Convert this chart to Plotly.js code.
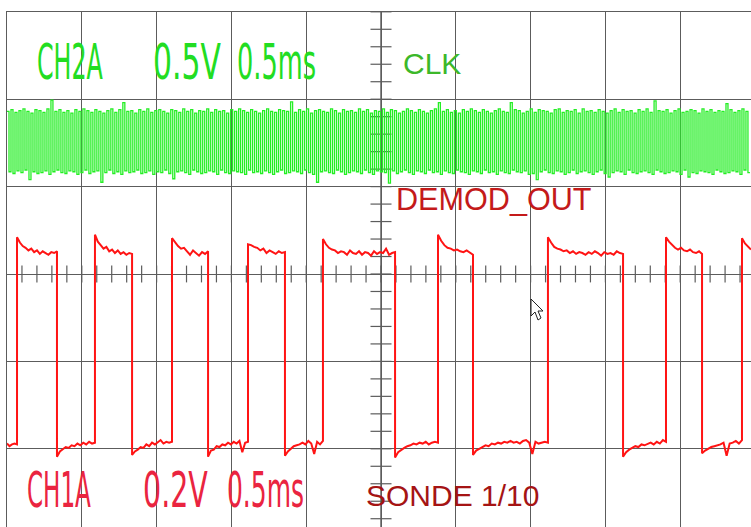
<!DOCTYPE html>
<html>
<head>
<meta charset="utf-8">
<script src="https://cdn.plot.ly/plotly-3.0.1.min.js"></script>
<style>
html,body{margin:0;padding:0;background:#ffffff;overflow:hidden;}
#chart{width:751px;height:527px;}
</style>
</head>
<body>
<div id="chart"></div>
<script>
// ---------- DATA (x in ms, 0.5 ms/div ; y in screen divisions, 0 = centre line) ----------
// CH2A "CLK": one value per clock cycle (top and bottom of each cycle)
const clkPeriodMs = 0.0267;
const clkHigh = [
 1.86,1.88,1.85,1.87,1.89,1.86,1.84,1.88,1.87,1.85,1.89,1.99,1.86,1.88,1.85,1.87,1.84,1.88,1.86,1.89,
 1.87,1.85,1.88,1.86,1.84,1.87,1.89,1.85,1.88,1.96,1.86,1.87,1.84,1.88,1.86,1.89,1.85,1.87,1.88,1.86,
 1.84,1.88,1.87,1.85,1.89,1.86,1.88,1.84,1.87,1.86,1.89,1.85,1.88,1.86,1.87,1.84,1.88,1.86,1.89,1.87,
 1.85,1.88,1.86,1.84,1.87,1.89,1.86,1.85,1.88,1.87,1.86,1.97,1.85,1.88,1.86,1.89,1.84,1.87,1.88,1.86,
 1.85,1.89,1.87,1.84,1.88,1.86,1.87,1.85,1.89,1.86,1.88,1.84,1.87,1.86,1.89,1.85,1.88,1.87,1.84,1.86,
 1.89,1.87,1.85,1.88,1.86,1.84,1.87,1.89,1.96,1.86,1.88,1.85,1.87,1.84,1.88,1.86,1.89,1.87,1.85,1.88,
 1.86,1.84,1.87,1.89,1.86,1.85,1.96,1.88,1.87,1.84,1.86,1.89,1.85,1.88,1.87,1.86,1.84,1.88,1.89,1.85,
 1.87,1.86,1.88,1.84,1.89,1.86,1.87,1.85,1.88,1.86,1.84,1.87,1.89,1.85,1.88,1.86,1.87,1.84,1.88,1.86,
 1.89,1.85,1.98,1.87,1.86,1.88,1.84,1.87,1.89,1.85,1.86,1.88,1.87,1.84,1.89,1.86,1.88,1.85,1.87,1.86,
 1.95,1.88,1.85,1.87,1.89,1.86
];
const clkLow = [
 1.17,1.15,1.18,1.16,1.19,1.08,1.17,1.15,1.16,1.18,1.14,1.17,1.19,1.16,1.15,1.18,1.17,1.14,1.16,1.19,
 1.15,1.17,1.18,1.05,1.16,1.19,1.15,1.17,1.14,1.18,1.16,1.17,1.19,1.15,1.16,1.18,1.14,1.17,1.16,1.19,
 1.15,1.09,1.17,1.18,1.16,1.14,1.19,1.17,1.15,1.16,1.18,1.17,1.14,1.19,1.16,1.15,1.18,1.17,1.16,1.14,
 1.19,1.16,1.17,1.15,1.18,1.16,1.14,1.17,1.19,1.15,1.16,1.18,1.17,1.15,1.19,1.16,1.14,1.05,1.17,1.18,
 1.16,1.15,1.19,1.17,1.14,1.16,1.18,1.17,1.15,1.19,1.16,1.14,1.18,1.17,1.16,1.04,1.18,1.15,1.17,1.19,
 1.16,1.14,1.18,1.17,1.15,1.19,1.16,1.17,1.14,1.18,1.16,1.15,1.19,1.17,1.16,1.14,1.18,1.17,1.15,1.19,
 1.16,1.17,1.14,1.18,1.16,1.15,1.19,1.17,1.16,1.18,1.14,1.15,1.08,1.17,1.19,1.16,1.15,1.18,1.17,1.14,
 1.16,1.19,1.15,1.17,1.18,1.16,1.14,1.17,1.19,1.15,1.11,1.16,1.18,1.17,1.14,1.19,1.16,1.15,1.17,1.18,
 1.16,1.14,1.19,1.17,1.15,1.16,1.18,1.17,1.14,1.19,1.11,1.16,1.15,1.18,1.17,1.16,1.14,1.19,1.17,1.15,
 1.16,1.18,1.17,1.14,1.19,1.16
];

// CH1A "DEMOD_OUT": edge times (ms) and the levels read along each segment (low, high, low, ...)
const demodEdgesMs = [0, 0.067, 0.334, 0.588, 0.836, 1.103, 1.344, 1.611, 1.858, 2.112,
                      2.594, 2.881, 3.115, 3.616, 4.118, 4.405, 4.646, 4.913, 4.973];
const demodLevels = [
 [-1.94,-1.97,-1.95,-1.94,-1.95],
 [0.42,0.36,0.32,0.30,0.27,0.29,0.25,0.27,0.23,0.26,0.24,0.22,0.25,0.24,0.26],
 [-2.09,-2.03,-2.00,-1.98,-1.99,-1.96,-1.97,-1.94,-1.96,-1.93,-1.95,-1.92,-1.94,-1.93],
 [0.45,0.37,0.33,0.29,0.31,0.26,0.28,0.24,0.27,0.23,0.25,0.22,0.24,0.23],
 [-2.07,-2.03,-2.01,-1.98,-1.99,-1.95,-1.97,-1.93,-1.95,-1.92,-1.90,-1.94,-1.92,-1.93,-1.92],
 [0.41,0.36,0.32,0.29,0.30,0.26,0.22,0.27,0.24,0.21,0.25,0.23,0.26],
 [-2.09,-2.02,-2.01,-1.97,-1.98,-1.95,-1.96,-1.93,-1.95,-1.92,-1.94,-1.91,-2.04,-1.93,-1.92],
 [0.34,0.33,0.31,0.30,0.27,0.29,0.24,0.27,0.25,0.23,0.26,0.24,0.25],
 [-2.08,-2.03,-2.00,-1.97,-1.96,-1.95,-1.93,-1.95,-1.91,-1.94,-2.06,-1.92,-1.95,-1.91],
 [0.40,0.34,0.30,0.28,0.27,0.24,0.26,0.25,0.22,0.27,0.24,0.23,0.26,0.22,0.25,0.24,0.21,0.26,0.23,0.25,0.24,0.29,0.22,0.24,0.25],
 [-2.10,-2.04,-2.01,-1.99,-1.97,-1.96,-1.94,-1.95,-1.93,-1.94,-1.92,-1.95,-1.93,-1.92,-1.93],
 [0.45,0.38,0.33,0.30,0.29,0.27,0.28,0.26,0.25,0.27,0.24,0.22],
 [-2.07,-2.02,-2.00,-1.98,-1.96,-1.97,-1.94,-1.95,-1.93,-1.94,-1.92,-1.93,-1.91,-1.93,-1.92,-1.94,-1.91,-1.90,-1.93,-2.06,-1.92,-1.94,-1.93,-1.92,-1.93],
 [0.42,0.36,0.31,0.29,0.28,0.26,0.27,0.24,0.26,0.23,0.25,0.24,0.22,0.25,0.23,0.26,0.24,0.21,0.25,0.23,0.24,0.22,0.26,0.24,0.23],
 [-2.09,-2.04,-2.01,-1.99,-1.97,-1.98,-1.95,-1.96,-1.94,-1.93,-1.95,-1.92,-1.94,-1.90,-1.92],
 [0.42,0.37,0.33,0.30,0.28,0.30,0.27,0.26,0.28,0.25,0.24,0.26,0.23],
 [-2.05,-2.02,-2.00,-1.98,-1.97,-1.96,-1.95,-1.93,-2.08,-1.94,-1.93,-1.91,-1.94,-1.90],
 [0.41,0.35,0.31,0.28]
];

// screen labels
const ch2Labels = ["CH2A", "0.5V", "0.5ms"];
const ch1Labels = ["CH1A", "0.2V", "0.5ms"];
const clkLabel = "CLK";
const demodLabel = "DEMOD_OUT";
const probeLabel = "SONDE 1/10";

// ---------- BUILD TRACES ----------
const clkX = [], clkY = [];
const nClk = Math.min(clkHigh.length, clkLow.length);
for (let i = 0; i < nClk; i++) {
  const t0 = i * clkPeriodMs, th = t0 + clkPeriodMs / 2;
  clkX.push(t0, th, th, t0 + clkPeriodMs);
  clkY.push(clkHigh[i], clkHigh[i], clkLow[i], clkLow[i]);
}
const demX = [], demY = [];
for (let k = 0; k < demodLevels.length; k++) {
  const a = demodEdgesMs[k], b = demodEdgesMs[k + 1], v = demodLevels[k], n = v.length;
  for (let j = 0; j < n; j++) { demX.push(a + (b - a) * j / (n - 1)); demY.push(v[j]); }
}
// graticule ticks on the centre lines
const hTickX = [], hTickY = [];
for (let i = 1; i < 50; i++) { hTickX.push(i * 0.1); hTickY.push(0); }
const vTickX = [], vTickY = [];
for (let i = -14; i <= 15; i++) { vTickX.push(2.5); vTickY.push(i * 0.2); }

const GRID = '#5c5c5c';
const traces = [
  {x: hTickX, y: hTickY, type: 'scatter', mode: 'markers', hoverinfo: 'skip', showlegend: false,
   marker: {symbol: 'line-ns', size: 12, line: {color: GRID, width: 1.2}}},
  {x: vTickX, y: vTickY, type: 'scatter', mode: 'markers', hoverinfo: 'skip', showlegend: false,
   marker: {symbol: 'line-ew', size: 15, line: {color: GRID, width: 1.2}}},
  {x: clkX, y: clkY, type: 'scatter', mode: 'lines', name: 'CLK', showlegend: false,
   line: {color: '#24ee24', width: 1.3}},
  {x: demX, y: demY, type: 'scatter', mode: 'lines', name: 'DEMOD_OUT', showlegend: false,
   line: {color: '#ff1414', width: 2}}
];

// ---------- LAYOUT ----------
const X0 = 7, PXMS = 149.6, Y0 = 274, PXDIV = 87.4;
function px2x(px) { return (px - X0) / PXMS; }
function px2y(py) { return (Y0 - py) / PXDIV; }

const scopeFont = '"Liberation Sans Narrow", "DejaVu Sans Condensed", "Liberation Sans", sans-serif';
const sansFont = '"Liberation Sans", Arial, sans-serif';
const annos = [];
const condensedTargets = {};
function addScope(text, left, right, cy, color) {
  condensedTargets[annos.length] = right - left;
  annos.push({text: text, x: px2x(left), y: px2y(cy), xref: 'x', yref: 'y', xanchor: 'left', yanchor: 'middle',
    showarrow: false, borderpad: 0, font: {family: scopeFont, size: 50, color: color}});
}
function addSans(text, left, cy, size, color) {
  annos.push({text: text, x: px2x(left), y: px2y(cy), xref: 'x', yref: 'y', xanchor: 'left', yanchor: 'middle',
    showarrow: false, borderpad: 0, font: {family: sansFont, size: size, color: color}});
}
addScope(ch2Labels[0], 36, 102, 62, '#22dd22');
addScope(ch2Labels[1], 152, 220, 62, '#22dd22');
addScope(ch2Labels[2], 236, 315, 62, '#22dd22');
addScope(ch1Labels[0], 26, 90, 490, '#ea2440');
addScope(ch1Labels[1], 142, 207, 490, '#ea2440');
addScope(ch1Labels[2], 226, 303, 490, '#ea2440');
addSans(clkLabel, 402, 63, 30, '#3cb82a');
addSans(demodLabel, 395, 199, 30.6, '#c41a1a');
addSans(probeLabel, 365, 495, 30, '#a51414');

// mouse pointer (decoration)
const cur = [[531,299],[531,316],[535,312],[538,320],[541,318],[538,311],[543,311]];
const curPath = cur.map((p, i) => (i ? 'L' : 'M') + px2x(p[0]).toFixed(4) + ',' + px2y(p[1]).toFixed(4)).join(' ') + ' Z';

const layout = {
  width: 751, height: 527,
  margin: {l: 7, r: 0, t: 12, b: 0, pad: 0},
  paper_bgcolor: '#ffffff', plot_bgcolor: '#ffffff',
  showlegend: false,
  xaxis: {range: [0, 744 / PXMS], dtick: 0.5, tick0: 0, showgrid: true, gridcolor: GRID, gridwidth: 1,
          zeroline: false, showticklabels: false, ticks: '', side: 'top',
          showline: true, linecolor: GRID, linewidth: 1, fixedrange: true},
  yaxis: {range: [px2y(527), px2y(12)], dtick: 1, tick0: 0, showgrid: true, gridcolor: GRID, gridwidth: 1,
          zeroline: false, showticklabels: false, ticks: '',
          showline: true, linecolor: GRID, linewidth: 1.5, fixedrange: true},
  shapes: [
    {type: 'line', xref: 'x', yref: 'paper', x0: 2.5, x1: 2.5, y0: 0, y1: 1, layer: 'between',
     line: {color: '#8a8a8a', width: 2}},
    {type: 'path', xref: 'x', yref: 'y', path: curPath, fillcolor: '#ffffff', line: {color: '#222', width: 1}, layer: 'above'}
  ],
  annotations: annos
};

Plotly.newPlot('chart', traces, layout, {staticPlot: true, displayModeBar: false}).then(function () {
  Object.keys(condensedTargets).forEach(function (idx) {
    const g = document.querySelector('g.annotation[data-index="' + idx + '"]');
    if (!g) return;
    const t = g.querySelector('text.annotation-text');
    if (!t) return;
    const bb = t.getBBox();
    if (!bb.width) return;
    const s = condensedTargets[idx] / bb.width;
    t.setAttribute('transform', 'translate(' + bb.x + ',0) scale(' + s + ',1) translate(' + (-bb.x) + ',0)');
  });
});
</script>
</body>
</html>
